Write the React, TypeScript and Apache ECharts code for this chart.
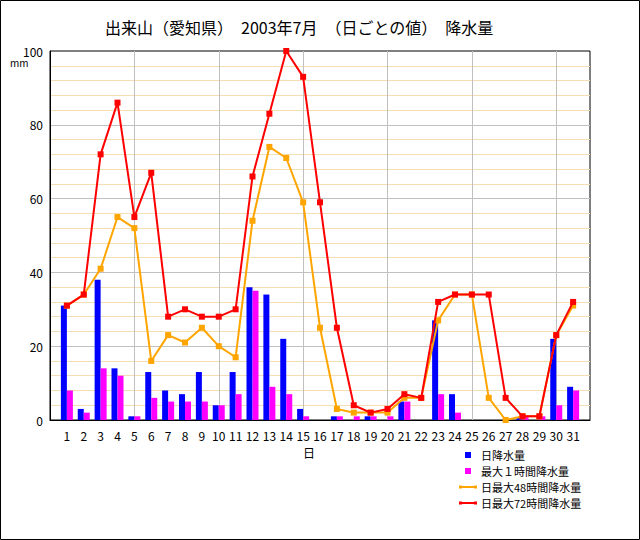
import React, { useEffect, useRef } from "react";
import * as echarts from "echarts";

const days: string[] = Array.from({ length: 31 }, (_, i) => String(i + 1));
const dailyRain: number[] = [31, 3, 38, 14, 1, 13, 8, 7, 13, 4, 13, 36, 34, 22, 3, 0, 1, 0, 1, 0, 5, 0, 27, 7, 0, 0, 0, 0.5, 0, 22, 9];
const maxHourly: number[] = [8, 2, 14, 12, 1, 6, 5, 5, 5, 4, 7, 35, 9, 7, 1, 0, 1, 1, 1, 1, 5, 0, 7, 2, 0, 0, 0, 1, 1, 4, 8];
const max48h: number[] = [31, 34, 41, 55, 52, 16, 23, 21, 25, 20, 17, 54, 74, 71, 59, 25, 3, 2, 2, 2, 6, 6, 27, 34, 34, 6, 0, 1, 1, 23, 31];
const max72h: number[] = [31, 34, 72, 86, 55, 67, 28, 30, 28, 28, 30, 66, 83, 100, 93, 59, 25, 4, 2, 3, 7, 6, 32, 34, 34, 34, 6, 1, 1, 23, 32];
const seriesNames: string[] = ["日降水量", "最大１時間降水量", "日最大48時間降水量", "日最大72時間降水量"];
const seriesColors: string[] = ["#0000ff", "#ff00ff", "#ffa500", "#ff0000"];
const titleText = "出来山（愛知県）　2003年7月　（日ごとの値）　降水量";

const FONT = "'Noto Sans CJK JP', sans-serif";

// pad axis with an empty slot on each side (day 0 and day 32)
const cats = ["", ...days, ""];
const pad = (arr: number[]) => [null, ...arr, null];

export default function App() {
  const ref = useRef<HTMLDivElement>(null);
  useEffect(() => {
    document.body.style.margin = "0";
    const chart = echarts.init(ref.current!, undefined, { renderer: "svg" });
    const legendY = [455, 471, 487, 503];
    const legendGraphics: any[] = [];
    seriesNames.forEach((name, i) => {
      const y = legendY[i];
      if (i < 2) {
        legendGraphics.push({ type: "rect", shape: { x: 465, y: y - 3, width: 6, height: 6 }, style: { fill: seriesColors[i] } });
      } else {
        legendGraphics.push({ type: "line", shape: { x1: 460, y1: y, x2: 476, y2: y }, style: { stroke: seriesColors[i], lineWidth: 2 } });
        legendGraphics.push({ type: "rect", shape: { x: 459, y: y - 1.5, width: 3, height: 3 }, style: { fill: seriesColors[i] } });
        legendGraphics.push({ type: "rect", shape: { x: 474, y: y - 1.5, width: 3, height: 3 }, style: { fill: seriesColors[i] } });
      }
      legendGraphics.push({
        type: "text",
        x: 481,
        y,
        style: { text: name, fill: "#000", font: `11px ${FONT}`, lineHeight: 11, verticalAlign: "middle", align: "left" },
      });
    });

    chart.setOption({
      animation: false,
      backgroundColor: "#fff",
      textStyle: { fontFamily: FONT },
      title: {
        text: titleText,
        left: 100,
        top: 14,
        textStyle: { fontSize: 16, fontWeight: "normal", color: "#000", fontFamily: FONT },
      },
      grid: { left: 50, right: 50, top: 51, bottom: 120, show: true, borderColor: "#000", borderWidth: 1, backgroundColor: "transparent" },
      xAxis: {
        type: "category",
        data: cats,
        boundaryGap: false,
        name: "日",
        nameLocation: "middle",
        nameGap: 26,
        nameTextStyle: { color: "#000", fontSize: 12, padding: [0, 22, 0, 0] },
        axisLine: { lineStyle: { color: "#000", width: 1 } },
        axisTick: { show: false },
        axisLabel: { interval: 0, color: "#000", fontSize: 12, margin: 9 },
        splitLine: {
          show: true,
          interval: (idx: number) => idx % 5 === 0 && idx !== 0 && idx !== 32,
          lineStyle: { color: "#c0c0c0", width: 1 },
        },
      },
      yAxis: {
        type: "value",
        min: 0,
        max: 100,
        interval: 20,
        axisLine: { show: true, lineStyle: { color: "#000", width: 1 } },
        axisTick: { show: false },
        axisLabel: { color: "#000", fontSize: 12, margin: 7 },
        splitLine: { show: true, showMaxLine: false, lineStyle: { color: "#c0c0c0", width: 1 } },
        minorTick: { show: false, splitNumber: 5 },
        minorSplitLine: { show: true, lineStyle: { color: "#f5deb3", width: 1 } },
      },
      series: [
        { name: seriesNames[0], type: "bar", data: pad(dailyRain), barWidth: 6, barGap: "0%", itemStyle: { color: seriesColors[0] } },
        { name: seriesNames[1], type: "bar", data: pad(maxHourly), barWidth: 6, barGap: "0%", itemStyle: { color: seriesColors[1] } },
        {
          name: seriesNames[2], type: "line", data: pad(max48h), symbol: "rect", symbolSize: 6, clip: false,
          lineStyle: { color: seriesColors[2], width: 2 }, itemStyle: { color: seriesColors[2] }, z: 3,
        },
        {
          name: seriesNames[3], type: "line", data: pad(max72h), symbol: "rect", symbolSize: 6, clip: false,
          lineStyle: { color: seriesColors[3], width: 2 }, itemStyle: { color: seriesColors[3] }, z: 4,
        },
      ],
      graphic: [
        { type: "rect", shape: { x: 0.5, y: 0.5, width: 639, height: 539 }, style: { fill: "none", stroke: "#000", lineWidth: 1 }, z: 100 },
        { type: "text", x: 10, y: 62, style: { text: "mm", fill: "#000", font: `10px ${FONT}`, verticalAlign: "middle" } },
        ...legendGraphics,
      ],
    });
    return () => chart.dispose();
  }, []);
  return <div ref={ref} style={{ width: 640, height: 540 }} />;
}
